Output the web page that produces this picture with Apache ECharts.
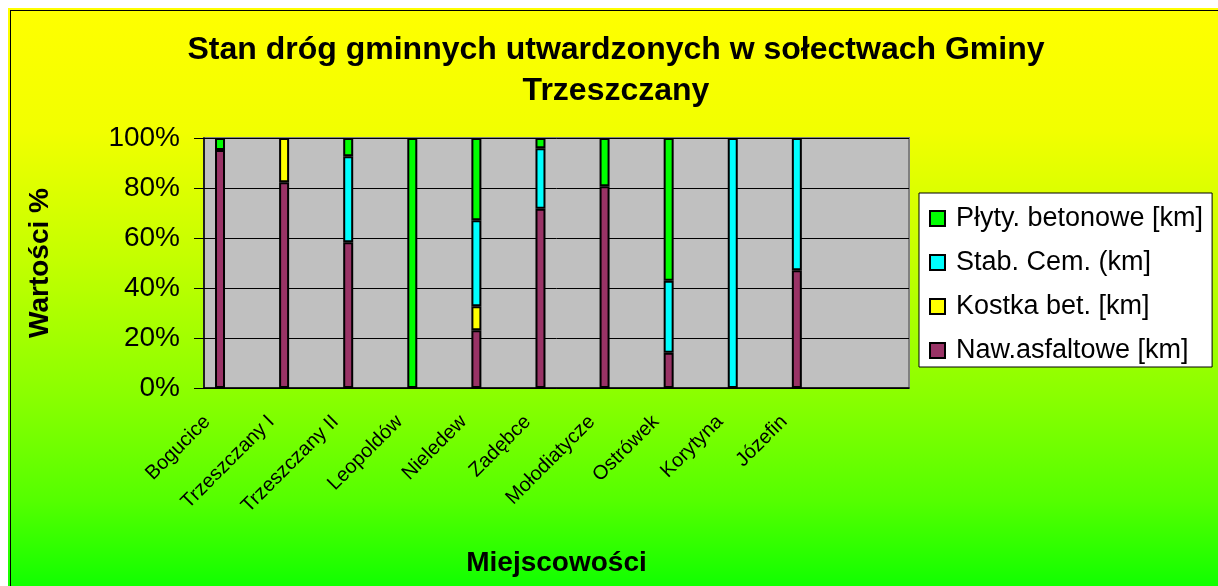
<!DOCTYPE html>
<html>
<head>
<meta charset="utf-8">
<script src="https://cdn.jsdelivr.net/npm/echarts@6/dist/echarts.min.js"></script>
<style>
  html, body { margin: 0; padding: 0; background: #fff; }
  #bg {
    position: absolute; left: 8px; top: 8px; width: 1210px; height: 578px;
    background: linear-gradient(to bottom, #ffff00 0px, #f2ff00 122px, #c4ff00 250px, #88ff00 392px, #55ff00 492px, #11ff00 578px);
  }
  #frame {
    position: absolute; left: 10px; top: 10px; width: 1208px; height: 576px;
    border-left: 1px solid #000; border-top: 1px solid #000;
  }
  #chart { position: absolute; left: 0; top: 0; width: 1218px; height: 586px; }
</style>
</head>
<body>
<div id="bg"></div>
<div id="frame"></div>
<div id="chart"></div>
<script>
// values in percent of each village's road length
const miejscowosci = ['Bogucice', 'Trzeszczany I', 'Trzeszczany II', 'Leopoldów', 'Nieledew',
  'Zadębce', 'Mołodiatycze', 'Ostrówek', 'Korytyna', 'Józefin']
const nawAsfaltowe = [95.2, 82.3, 58.3, 0, 23.1, 71.7, 80.7, 14.1, 0, 47.1]
const kostkaBet = [0, 17.7, 0, 0, 9.6, 0, 0, 0, 0, 0]
const stabCem = [0, 0, 34.4, 0, 34.4, 24.2, 0, 28.8, 100, 52.9]
const plytyBetonowe = [4.8, 0, 7.3, 100, 32.9, 4.1, 19.3, 57.1, 0, 0]
const yTicks = ['0%', '20%', '40%', '60%', '80%', '100%']
const SLOTS = 22 // the sheet has empty categories between villages and at the end

// every village sits on an even slot, odd slots are blank
const categories = []
for (let i = 0; i < SLOTS; i++) {
  categories.push(i % 2 === 0 && miejscowosci[i / 2] ? miejscowosci[i / 2] : '')
}
function spread(arr) {
  const out = []
  for (let i = 0; i < SLOTS; i++) {
    const v = i % 2 === 0 ? arr[i / 2] : null
    out.push(v ? v : null)
  }
  return out
}

const font = '"Liberation Sans", Arial, sans-serif'
function bar(name, data, color) {
  return {
    name: name,
    type: 'bar',
    stack: 'total',
    barWidth: 10,
    data: spread(data),
    itemStyle: { color: color, borderColor: '#000', borderWidth: 2 },
    animation: false
  }
}

const chart = echarts.init(document.getElementById('chart'))
chart.setOption({
  backgroundColor: 'transparent',
  textStyle: { fontFamily: font, color: '#000' },
  title: {
    text: 'Stan dróg gminnych utwardzonych w sołectwach Gminy\nTrzeszczany',
    left: 616,
    top: 30,
    padding: 0,
    textAlign: 'center',
    textStyle: { fontFamily: font, fontSize: 32, fontWeight: 'bold', lineHeight: 41, color: '#000' }
  },
  legend: {
    orient: 'vertical',
    left: 919,
    top: 193,
    padding: [12, 9, 3, 10],
    itemGap: 17,
    itemWidth: 15,
    itemHeight: 15,
    backgroundColor: '#fff',
    borderColor: '#000',
    borderWidth: 1,
    icon: 'rect',
    data: ['Płyty. betonowe [km]', 'Stab. Cem. (km]', 'Kostka bet. [km]', 'Naw.asfaltowe [km]'],
    textStyle: { fontFamily: font, fontSize: 27, color: '#000', padding: [0, 0, 0, 6] }
  },
  grid: {
    left: 204,
    right: 309,
    top: 138,
    bottom: 198,
    show: true,
    backgroundColor: '#c0c0c0',
    borderColor: '#808080',
    borderWidth: 2
  },
  xAxis: {
    type: 'category',
    data: categories,
    name: 'Miejscowości',
    nameLocation: 'middle',
    nameGap: 161,
    nameTextStyle: { fontFamily: font, fontSize: 28, fontWeight: 'bold', color: '#000' },
    axisLine: { lineStyle: { color: '#000', width: 1.5 } },
    axisTick: { length: 6, interval: 0, lineStyle: { color: '#000' } },
    axisLabel: {
      interval: 0, rotate: 45, margin: 18, fontSize: 20, color: '#000', fontFamily: font,
      padding: [0, 18, 0, 0]
    }
  },
  yAxis: {
    type: 'value',
    min: 0,
    max: 100,
    interval: 20,
    name: 'Wartości %',
    nameLocation: 'middle',
    nameGap: 150,
    nameTextStyle: { fontFamily: font, fontSize: 28, fontWeight: 'bold', color: '#000' },
    axisLine: { show: true, lineStyle: { color: '#000', width: 1.5 } },
    axisTick: { show: true, length: 10, lineStyle: { color: '#000' } },
    splitLine: { lineStyle: { color: '#000', width: 1 } },
    axisLabel: {
      margin: 24,
      fontSize: 28,
      color: '#000',
      fontFamily: font,
      formatter: function(v) { return yTicks[Math.round(v / 20)] }
    }
  },
  series: [
    bar('Naw.asfaltowe [km]', nawAsfaltowe, '#993366'),
    bar('Kostka bet. [km]', kostkaBet, '#ffff00'),
    bar('Stab. Cem. (km]', stabCem, '#00ffff'),
    bar('Płyty. betonowe [km]', plytyBetonowe, '#00ff00')
  ]
})
</script>
</body>
</html>
